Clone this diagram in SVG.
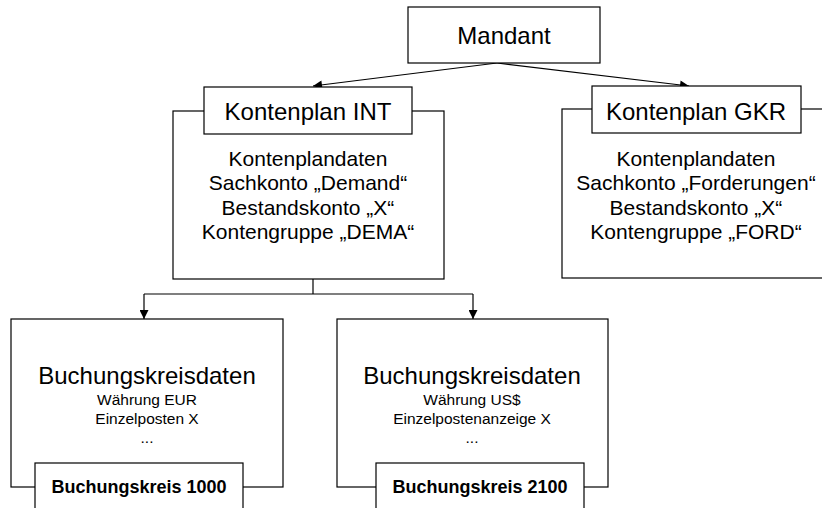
<svg xmlns="http://www.w3.org/2000/svg" width="822" height="508" viewBox="0 0 822 508">
<style>
.box{fill:#fff;stroke:#000;stroke-width:1.2}
.frame{fill:#fff;stroke:#000;stroke-width:1.2}
.t{font-family:"Liberation Sans",Arial,sans-serif;fill:#000;text-anchor:middle}
.h{font-size:24px}
.m{font-size:21px}
.s{font-size:15.5px}
.b{font-size:18px;font-weight:bold}
.c{fill:none;stroke:#000;stroke-width:1.2}
</style>
<defs>
<marker id="ah" viewBox="0 0 10 10" refX="10" refY="5" markerWidth="10" markerHeight="9" markerUnits="userSpaceOnUse" orient="auto">
<path d="M0,0 L10,5 L0,10 z" fill="#000"/>
</marker>
</defs>
<g id="connectors">
<line class="c" x1="497" y1="63" x2="313" y2="86" marker-end="url(#ah)"/>
<line class="c" x1="497" y1="63" x2="689" y2="86" marker-end="url(#ah)"/>
<polyline class="c" points="313,279 313,294"/>
<polyline class="c" points="144,294 473,294"/>
<line class="c" x1="144" y1="294" x2="144" y2="319" marker-end="url(#ah)"/>
<line class="c" x1="473" y1="294" x2="473" y2="319" marker-end="url(#ah)"/>
</g>
<g id="mandant">
<rect class="box" x="408" y="7" width="192" height="56"/>
<text class="t h" x="504" y="44">Mandant</text>
</g>
<g id="kontenplan-int">
<rect class="frame" x="173" y="111" width="271" height="168"/>
<rect class="box" x="204" y="87" width="208" height="47"/>
<text class="t h" x="308" y="120">Kontenplan INT</text>
<text class="t m" x="308" y="166">Kontenplandaten</text>
<text class="t m" x="308" y="190">Sachkonto „Demand“</text>
<text class="t m" x="308" y="215">Bestandskonto „X“</text>
<text class="t m" x="308" y="239">Kontengruppe „DEMA“</text>
</g>
<g id="kontenplan-gkr">
<rect class="frame" x="562" y="109" width="280" height="169"/>
<rect class="box" x="592" y="86" width="209" height="47"/>
<text class="t h" x="696" y="120">Kontenplan GKR</text>
<text class="t m" x="696" y="166">Kontenplandaten</text>
<text class="t m" x="696" y="190">Sachkonto „Forderungen“</text>
<text class="t m" x="696" y="215">Bestandskonto „X“</text>
<text class="t m" x="696" y="239">Kontengruppe „FORD“</text>
</g>
<g id="buchungskreis-1000">
<rect class="frame" x="11" y="319" width="272" height="168"/>
<text class="t h" x="147" y="384">Buchungskreisdaten</text>
<text class="t s" x="147" y="405">Währung EUR</text>
<text class="t s" x="147" y="424">Einzelposten X</text>
<text class="t s" x="147" y="443">...</text>
<rect class="box" x="35" y="463" width="208" height="60"/>
<text class="t b" x="139" y="493">Buchungskreis 1000</text>
</g>
<g id="buchungskreis-2100">
<rect class="frame" x="337" y="319" width="271" height="168"/>
<text class="t h" x="472" y="384">Buchungskreisdaten</text>
<text class="t s" x="472" y="405">Währung US$</text>
<text class="t s" x="472" y="424">Einzelpostenanzeige X</text>
<text class="t s" x="472" y="443">...</text>
<rect class="box" x="376" y="463" width="208" height="60"/>
<text class="t b" x="480" y="493">Buchungskreis 2100</text>
</g>
</svg>
